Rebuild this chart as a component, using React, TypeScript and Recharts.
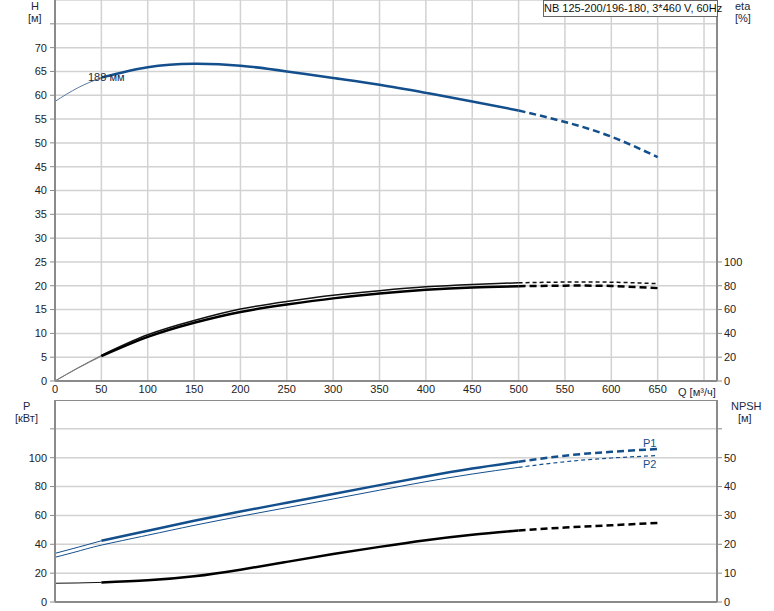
import React from "react";
import {
  ComposedChart,
  Line,
  XAxis,
  YAxis,
  CartesianGrid,
  ReferenceLine,
} from "recharts";

// Q [m3/h]
const flow = [0, 25, 50, 100, 150, 200, 250, 300, 350, 400, 450, 500, 550, 600, 650];
// H [m]
const head = [58.7, 61.6, 63.7, 65.9, 66.6, 66.2, 65.0, 63.6, 62.2, 60.5, 58.7, 56.8, 54.4, 51.3, 47.0];
// eta [%]
const etaUpper = [0, 11.2, 21.5, 38.8, 50.8, 60.4, 66.8, 72.0, 75.9, 79.1, 81.1, 82.5, 83.1, 83.0, 81.8];
const etaLower = [0, 10.9, 20.8, 37.0, 48.9, 58.0, 64.2, 69.4, 73.5, 76.6, 78.6, 79.6, 80.1, 79.8, 78.0];
// P [kW]
const powerP1 = [33.7, 38.0, 42.4, 49.4, 56.3, 62.7, 68.8, 74.9, 81.0, 87.0, 92.5, 97.2, 101.4, 104.1, 106.0];
const powerP2 = [31.0, 35.2, 39.4, 46.3, 53.1, 59.4, 65.4, 71.4, 77.5, 83.4, 88.7, 93.3, 97.2, 99.8, 101.5];
// NPSH [m]
const npsh = [6.5, 6.6, 6.8, 7.5, 8.9, 11.2, 13.9, 16.6, 19.1, 21.4, 23.3, 24.8, 25.8, 26.6, 27.4];

const qTicks = [0, 50, 100, 150, 200, 250, 300, 350, 400, 450, 500, 550, 600, 650, 700];
const hTicks = [0, 5, 10, 15, 20, 25, 30, 35, 40, 45, 50, 55, 60, 65, 70, 75];
const etaTicks = [0, 20, 40, 60, 80, 100];
const pTicks = [0, 20, 40, 60, 80, 100, 120];
const npshTicks = [0, 10, 20, 30, 40, 50, 60];

const BLUE = "#134f8c";
const FONT = "'Liberation Sans', Arial, sans-serif";

const seg = (values: number[], i: number, from: number, to: number) =>
  flow[i] >= from && flow[i] <= to ? values[i] : null;

const rows = flow.map((q, i) => ({
  q,
  hThin: seg(head, i, 0, 50),
  hSolid: seg(head, i, 50, 500),
  hDash: seg(head, i, 500, 650),
  e1Thin: seg(etaUpper, i, 0, 50),
  e1Solid: seg(etaUpper, i, 50, 500),
  e1Dash: seg(etaUpper, i, 500, 650),
  e2Thin: seg(etaLower, i, 0, 50),
  e2Solid: seg(etaLower, i, 50, 500),
  e2Dash: seg(etaLower, i, 500, 650),
  p1Thin: seg(powerP1, i, 0, 50),
  p1Solid: seg(powerP1, i, 50, 500),
  p1Dash: seg(powerP1, i, 500, 650),
  p2Solid: seg(powerP2, i, 0, 500),
  p2Dash: seg(powerP2, i, 500, 650),
  nThin: seg(npsh, i, 0, 50),
  nSolid: seg(npsh, i, 50, 500),
  nDash: seg(npsh, i, 500, 650),
}));

const tickStyle = { fill: "#222", fontSize: 11, fontFamily: FONT };
const axisStroke = { stroke: "#8a8a8a", strokeWidth: 2 };

const hideAt = (v: number) => (t: number) => (t === v ? "" : String(t));

const line = (
  key: string,
  axis: string,
  color: string,
  width: number,
  dash?: string
) => (
  <Line
    key={key}
    yAxisId={axis}
    dataKey={key}
    type="natural"
    stroke={color}
    strokeWidth={width}
    strokeDasharray={dash}
    dot={false}
    activeDot={false}
    isAnimationActive={false}
  />
);

const Label: React.FC<{ x: number; y: number; children: React.ReactNode; color?: string }> = ({
  x,
  y,
  children,
  color = "#1a2a44",
}) => (
  <div
    style={{
      position: "absolute",
      left: x,
      top: y,
      fontSize: 11,
      fontFamily: FONT,
      color,
      whiteSpace: "nowrap",
      lineHeight: "12px",
    }}
  >
    {children}
  </div>
);

export default function App() {
  return (
    <div
      style={{
        position: "absolute",
        left: 0,
        top: 0,
        width: 774,
        height: 611,
        background: "#fff",
        overflow: "hidden",
      }}
    >
      <div style={{ position: "absolute", left: 0, top: 0 }}>
        <ComposedChart
          width={774}
          height={400}
          data={rows}
          margin={{ top: 0, right: 0, bottom: 0, left: 0 }}
        >
          <CartesianGrid yAxisId="h" stroke="#d2d2d2" strokeWidth={1.5} />
          <XAxis
            dataKey="q"
            type="number"
            domain={[0, 714]}
            ticks={qTicks}
            tickFormatter={hideAt(700)}
            height={19}
            tick={tickStyle}
            tickSize={0}
            tickMargin={4}
            axisLine={axisStroke}
            tickLine={false}
          />
          <YAxis
            yAxisId="h"
            orientation="left"
            domain={[0, 80]}
            ticks={hTicks}
            tickFormatter={hideAt(75)}
            width={55}
            tick={tickStyle}
            tickSize={5}
            tickMargin={3}
            axisLine={axisStroke}
            tickLine={{ stroke: "#8a8a8a" }}
          />
          <YAxis
            yAxisId="eta"
            orientation="right"
            domain={[0, 320]}
            ticks={etaTicks}
            width={57}
            tick={tickStyle}
            tickSize={5}
            tickMargin={2}
            axisLine={axisStroke}
            tickLine={{ stroke: "#8a8a8a" }}
          />
          {line("hThin", "h", "#5a78a0", 1)}
          {line("hSolid", "h", BLUE, 2.5)}
          {line("hDash", "h", BLUE, 2.5, "7 4")}
          {line("e1Thin", "eta", "#777", 1)}
          {line("e1Solid", "eta", "#111", 1.5)}
          {line("e1Dash", "eta", "#111", 1.5, "4 3")}
          {line("e2Thin", "eta", "#777", 1)}
          {line("e2Solid", "eta", "#000", 2.5)}
          {line("e2Dash", "eta", "#000", 2.5, "7 4")}
        </ComposedChart>
      </div>
      <div style={{ position: "absolute", left: 0, top: 400 }}>
        <ComposedChart
          width={774}
          height={211}
          data={rows}
          margin={{ top: 0, right: 0, bottom: 0, left: 0 }}
        >
          <CartesianGrid yAxisId="p" stroke="#d2d2d2" strokeWidth={1.5} />
          <XAxis
            dataKey="q"
            type="number"
            domain={[0, 714]}
            ticks={qTicks}
            height={9}
            tick={false}
            tickLine={false}
            axisLine={axisStroke}
          />
          <YAxis
            yAxisId="p"
            orientation="left"
            domain={[0, 140]}
            ticks={pTicks}
            tickFormatter={hideAt(120)}
            width={55}
            tick={tickStyle}
            tickSize={5}
            tickMargin={3}
            axisLine={axisStroke}
            tickLine={{ stroke: "#8a8a8a" }}
          />
          <YAxis
            yAxisId="npsh"
            orientation="right"
            domain={[0, 70]}
            ticks={npshTicks}
            tickFormatter={hideAt(60)}
            width={57}
            tick={tickStyle}
            tickSize={5}
            tickMargin={2}
            axisLine={axisStroke}
            tickLine={{ stroke: "#8a8a8a" }}
          />
          <ReferenceLine yAxisId="p" y={140} stroke="#8a8a8a" strokeWidth={2} />
          {line("p1Thin", "p", BLUE, 1)}
          {line("p1Solid", "p", BLUE, 2.5)}
          {line("p1Dash", "p", BLUE, 2.5, "7 4")}
          {line("p2Solid", "p", BLUE, 1)}
          {line("p2Dash", "p", BLUE, 1.2, "4 3")}
          {line("nThin", "npsh", "#111", 1)}
          {line("nSolid", "npsh", "#000", 2.5)}
          {line("nDash", "npsh", "#000", 2.5, "7 4")}
        </ComposedChart>
      </div>

      <div
        style={{
          position: "absolute",
          left: 543,
          top: 0,
          width: 173,
          height: 15,
          border: "1px solid #666",
          background: "#fff",
          fontSize: 11,
          fontFamily: FONT,
          lineHeight: "15px",
          textAlign: "center",
          color: "#111",
          whiteSpace: "nowrap",
        }}
      >
        NB 125-200/196-180, 3*460 V, 60Hz
      </div>

      <Label x={31} y={0}>H</Label>
      <Label x={28} y={12}>[м]</Label>
      <Label x={735} y={0}>eta</Label>
      <Label x={735} y={12}>[%]</Label>
      <Label x={88} y={71}>188 мм</Label>
      <Label x={678} y={386}>Q [м³/ч]</Label>
      <Label x={23} y={400}>P</Label>
      <Label x={15} y={412}>[кВт]</Label>
      <Label x={731} y={400}>NPSH</Label>
      <Label x={738} y={412}>[м]</Label>
      <Label x={643} y={437} color={BLUE}>P1</Label>
      <Label x={643} y={458} color={BLUE}>P2</Label>
    </div>
  );
}
